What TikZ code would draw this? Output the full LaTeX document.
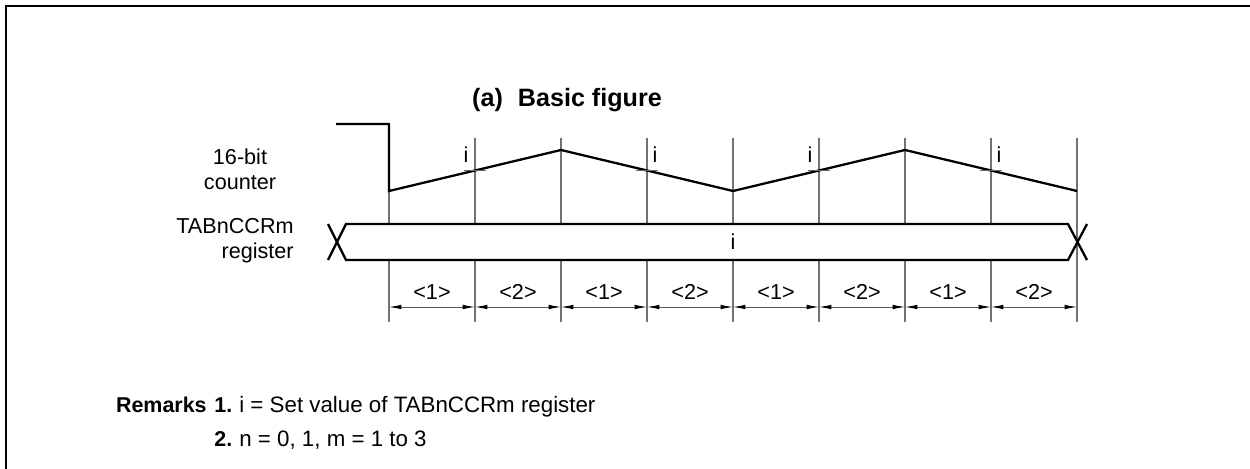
\documentclass[tikz,border=0pt]{standalone}
\usepackage{fontspec}
\setmainfont{Liberation Sans}
\usetikzlibrary{arrows.meta}
\begin{document}
\begin{tikzpicture}[x=0.02cm,y=-0.02cm,
  txt/.style={font=\fontsize{12.3}{14.2}\selectfont, inner sep=0pt},
  remtxt/.style={font=\fontsize{12.7}{15}\selectfont, inner sep=0pt},
  bold/.style={font=\fontsize{12.2}{14}\selectfont\bfseries, inner sep=0pt},
  wave/.style={line width=1.3pt, line join=miter},
  gridline/.style={line width=0.6pt, draw=black!55},
  tick/.style={line width=0.7pt, draw=black!60},
  dim/.style={line width=0.5pt, draw=black!65, {Latex[length=7pt,width=2.6pt,color=black]}-{Latex[length=7pt,width=2.6pt,color=black]}}]
\useasboundingbox (0,0) rectangle (1250,469);
% frame
\draw[line width=1.4pt] (6,469) -- (6,6) -- (1250,6);
% title
\node[txt, font=\fontsize{14.3}{16}\selectfont\bfseries] (title) at (567,100) {(a)\hspace{0.6em}Basic figure};
% grid lines
\foreach \k in {0,...,8} {
  \pgfmathsetmacro{\xx}{389+86*\k}
  \coordinate (t\k) at (\xx,138);
  \coordinate (u\k) at (\xx,224);
  \coordinate (l\k) at (\xx,260);
  \coordinate (b\k) at (\xx,322);
}
\foreach \k in {0,...,7} {
  \draw[gridline] (t\k) -- (u\k);
  \draw[gridline] (l\k) -- (b\k);
}
\draw[gridline] (t8) -- (b8);
% counter waveform
\coordinate (w0) at (336,124);
\coordinate (w1) at (389,124);
\coordinate (w2) at (389,191);
\coordinate (w3) at (561,150);
\coordinate (w4) at (733,191);
\coordinate (w5) at (905,150);
\coordinate (w6) at (1077,191);
\draw[wave] (w0) -- (w1) -- (w2) -- (w3) -- (w4) -- (w5) -- (w6);
% ticks at crossing points
\foreach \xx in {475,647,819,991} {
  \draw[tick] (\xx-11,170.5) -- (\xx+11,170.5);
}
\node[txt] (i1) at (466,155) {i};
\node[txt] (i2) at (655,155) {i};
\node[txt] (i3) at (810,155) {i};
\node[txt] (i4) at (999,155) {i};
% register bus
\draw[wave] (328,224) -- (346,260) -- (1068,260) -- (1087,224);
\draw[wave] (328,260) -- (346,224) -- (1068,224) -- (1087,260);
\node[txt] (ib) at (733,242) {i};
% left labels
\node[txt, align=center] (cnt) at (240,169) {16-bit\\counter};
\node[txt, align=right, anchor=east] (reg) at (294,241) {TABnCCRm\\register};
% dimension row
\foreach \k in {0,...,7} {
  \pgfmathtruncatemacro{\lab}{mod(\k,2)+1}
  \draw[dim] (\k*86+389,307) -- (\k*86+475,307);
  \node[txt] (d\k) at (\k*86+432,292) {<\lab>};
}
% remarks
\node[bold, anchor=base east] (rem) at (207,412) {Remarks};
\node[bold, anchor=base west] (r1) at (214,412) {1.};
\node[remtxt, anchor=base west] (r1t) at (239,412) {i = Set value of TABnCCRm register};
\node[bold, anchor=base west] (r2) at (214,446) {2.};
\node[remtxt, anchor=base west] (r2t) at (239,446) {n = 0, 1, m = 1 to 3};
\end{tikzpicture}
\end{document}
